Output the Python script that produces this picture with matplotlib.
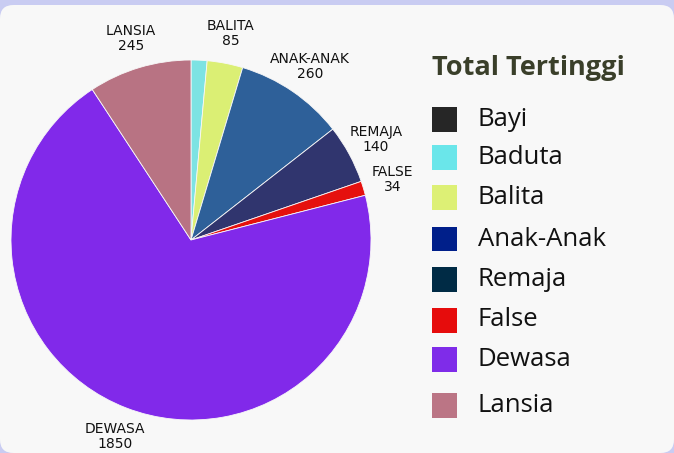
import numpy as np
import matplotlib
matplotlib.use("Agg")
import matplotlib.pyplot as plt
from matplotlib.patches import FancyBboxPatch, Rectangle

categories = ["Bayi", "Baduta", "Balita", "Anak-Anak", "Remaja", "False", "Dewasa", "Lansia"]
values = [0, 38, 85, 260, 140, 34, 1850, 245]
show_label = [False, False, True, True, True, True, True, True]
pie_colors = ["#2a2a2a", "#7de3e3", "#dbef74", "#2e6099", "#30356e", "#e5100e", "#8129ea", "#b87383"]
legend_colors = ["#262626", "#6ae6ea", "#ddf075", "#001f8a", "#002b45", "#e60c0c", "#7f2ce9", "#bb7585"]
legend_title = "Total Tertinggi"

W, H = 674, 453
fig = plt.figure(figsize=(W / 100, H / 100), dpi=100)
fig.patch.set_facecolor("#c9ccf2")

# rounded panel behind everything
panel = FancyBboxPatch((0, 0), 1, 1 - 5 / H, boxstyle="round,pad=0,rounding_size=0.02",
                       transform=fig.transFigure, facecolor="#f8f8f8", edgecolor="none",
                       mutation_aspect=W / H, zorder=-5)
fig.patches.append(panel)

# pie: center (191, 240) px, radius 180 px
ax = fig.add_axes([11 / W, 33 / H, 360 / W, 360 / H])
ax.set_zorder(2)
wedges, _ = ax.pie(values, colors=pie_colors, startangle=90, counterclock=False,
                   wedgeprops=dict(linewidth=0.6, edgecolor="#f8f8f8"))
ax.set_xlim(-1, 1)
ax.set_ylim(-1, 1)
ax.set_aspect("equal")
ax.axis("off")

for w, cat, val, show in zip(wedges, categories, values, show_label):
    if not show:
        continue
    mid = np.deg2rad((w.theta1 + w.theta2) / 2)
    r = 1.17
    ax.text(r * np.cos(mid), r * np.sin(mid), f"{cat.upper()}\n{val}",
            ha="center", va="center", fontsize=10, family="DejaVu Sans",
            color="#111111", linespacing=1.1, clip_on=False)

# legend drawn in pixel space
fig.text(432 / W, 1 - 68 / H, legend_title, ha="left", va="center", fontsize=19.5,
         fontweight="bold", color="#3a3f2a", family="Open Sans")
rows_y = [119, 157, 197, 239, 279, 320, 359, 405]
for y, cat, col in zip(rows_y, categories, legend_colors):
    fig.patches.append(Rectangle((432 / W, 1 - (y + 12.5) / H), 25 / W, 25 / H,
                                 transform=fig.transFigure, facecolor=col, edgecolor="none"))
    fig.text(478 / W, 1 - y / H, cat, ha="left", va="center", fontsize=18.5,
             color="#111111", family="Open Sans")

fig.savefig("out.png", dpi=100, facecolor=fig.get_facecolor())
